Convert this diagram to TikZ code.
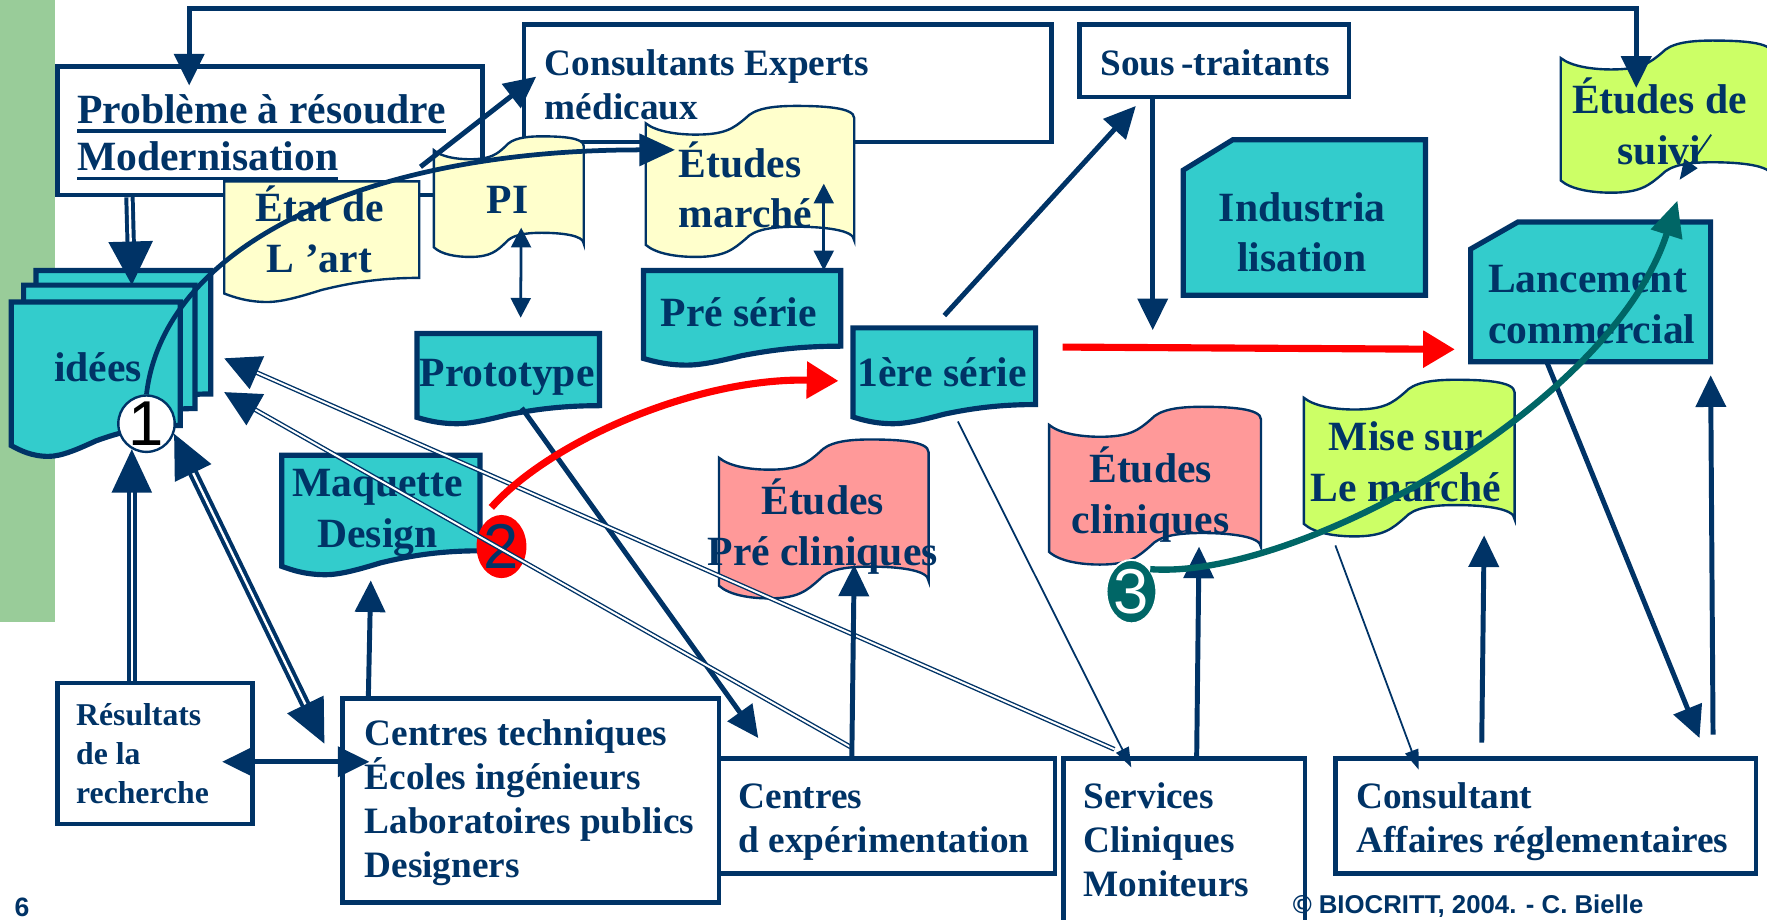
\documentclass[tikz,border=0pt]{standalone}
\usepackage{fontspec}
\setmainfont{Liberation Serif}
\setsansfont{Liberation Sans}
\usetikzlibrary{arrows.meta,calc,shapes.geometric}

\definecolor{navy}{HTML}{003366}
\definecolor{cyanbox}{HTML}{33CCCC}
\definecolor{paleyellow}{HTML}{FFFFCC}
\definecolor{pinkdoc}{HTML}{FF9999}
\definecolor{limedoc}{HTML}{CCFF66}
\definecolor{sidegreen}{HTML}{99CC99}
\definecolor{tealarrow}{HTML}{006666}

\newcommand{\bigtxt}{\fontsize{10.5}{12.8}\selectfont\bfseries}
\newcommand{\medtxt}{\fontsize{9.4}{11.1}\selectfont\bfseries}
\newcommand{\smltxt}{\fontsize{8}{9.8}\selectfont\bfseries}
\newcommand{\thickul}[1]{\setbox0=\hbox{#1}\rlap{\rule[-2.4pt]{\wd0}{0.9pt}}\box0}

\tikzset{
  frame/.style={draw=navy,line width=1.15pt,fill=white,inner sep=0pt},
  spot/.style={inner sep=0pt,outer sep=0pt},
  cyandoc/.style={draw=navy,line width=1.3pt,fill=cyanbox},
  softdoc/.style={draw=navy,line width=0.6pt,fill=#1},
  lbl/.style={text=navy,inner sep=0pt,align=center,font=\bigtxt},
  lblm/.style={text=navy,inner sep=0pt,align=left,font=\medtxt},
  flow/.style={draw=navy,line width=1.25pt,-{Triangle[length=8pt,width=7.5pt]}},
  duo/.style={draw=navy,line width=0.7pt,{Triangle[length=5pt,width=5pt]}-{Triangle[length=5pt,width=5pt]}},
  hollow/.style={draw=navy,double=white,line width=1pt,double distance=0.6pt},
  hollowthin/.style={draw=navy,double=white,line width=0.35pt,double distance=0.5pt,-{Triangle[length=9pt,width=9pt]}},
  fine/.style={draw=navy,line width=0.45pt,-{Triangle[length=5pt,width=3.5pt]}},
  redflow/.style={draw=red,line width=1.8pt,-{Triangle[length=8pt,width=9pt]}},
  tealflow/.style={draw=tealarrow,line width=1.6pt,-{Triangle[length=9pt,width=8pt]}},
  digit/.style={font=\sffamily\fontsize{16}{16}\selectfont,inner sep=0pt}
}

% document with a wavy lower edge
\newcommand{\docshape}[6]{%
  \path[#6,shift={(#2,#3)},xscale=#4,yscale=#5] (0,0) -- (1,0) -- (1,.8)
    .. controls (.8,.8) and (.65,.84) .. (.5,.9)
    .. controls (.4,.95) and (.3,1) .. (.22,1)
    .. controls (.12,1) and (.05,.96) .. (0,.93) -- cycle;
  \node[spot,minimum width=#4*0.01cm,minimum height=#5*0.01cm] (#1) at ({#2+#4/2},{#3+#5/2}) {};}

% punched tape, wavy on both edges
\newcommand{\tapeshape}[6]{%
  \path[#6,shift={(#2,#3)},xscale=#4,yscale=#5]
    (0,.115) .. controls (.05,.17) and (.15,.19) .. (.24,.19)
    .. controls (.38,.19) and (.42,.15) .. (.48,.08)
    .. controls (.52,.02) and (.6,0) .. (.72,0)
    .. controls (.85,0) and (1,.01) .. (1,.08)
    -- (1,.89) .. controls (1,.82) and (.85,.8) .. (.72,.8)
    .. controls (.6,.8) and (.52,.82) .. (.48,.88)
    .. controls (.42,.95) and (.38,1) .. (.24,1)
    .. controls (.15,1) and (.05,.98) .. (0,.92) -- cycle;
  \node[spot,minimum width=#4*0.01cm,minimum height=#5*0.01cm] (#1) at ({#2+#4/2},{#3+#5/2}) {};}

% card with cut corner
\newcommand{\cardshape}[8]{%
  \path[#8] (#2,{#3+#7}) -- ({#2+#6},#3) -- ({#2+#4},#3) -- ({#2+#4},{#3+#5}) -- (#2,{#3+#5}) -- cycle;
  \node[spot,minimum width=#4*0.01cm,minimum height=#5*0.01cm] (#1) at ({#2+#4/2},{#3+#5/2}) {};}

\begin{document}
\begin{tikzpicture}[x=0.01cm,y=-0.01cm]
\useasboundingbox (0,0) rectangle (1568,816);
\fill[sidegreen] (0,0) rectangle (49,552);

% boxes
\node[frame,minimum width=3.77cm,minimum height=1.14cm] (prob) at (239.5,116) {};
\node[frame,minimum width=4.68cm,minimum height=1.04cm] (cons) at (699,74) {};
\node[frame,minimum width=2.39cm,minimum height=0.64cm] (sous) at (1077.5,54) {};
\node[frame,minimum width=1.73cm,minimum height=1.25cm] (resu) at (137.5,668.5) {};
\node[frame,minimum width=3.34cm,minimum height=1.81cm] (ctech) at (471,710.5) {};
\node[frame,minimum width=2.98cm,minimum height=1.02cm] (cexp) at (787,724) {};
\node[frame,minimum width=2.14cm,minimum height=1.57cm] (serv) at (1051,751.5) {};
\node[frame,minimum width=3.73cm,minimum height=1.02cm] (consr) at (1371.5,724) {};

\node[lbl,align=left,anchor=west,font=\fontsize{10.5}{12}\selectfont\bfseries] (prob-t) at ($(prob.west)+(19,6)$) {\thickul{Problème à résoudre}\\\thickul{Modernisation}};
\node[lblm,anchor=west] (cons-t) at ($(cons.west)+(20,1)$) {Consultants Experts\\médicaux};
\node[lblm,anchor=west] (sous-t) at ($(sous.west)+(20,1.5)$) {Sous\,-traitants};
\node[lblm,anchor=west,font=\smltxt] (resu-t) at ($(resu.west)+(18,0)$) {Résultats\\de la\\recherche};
\node[lblm,anchor=west] (ctech-t) at ($(ctech.west)+(21,1.5)$) {Centres techniques\\Écoles ingénieurs\\Laboratoires publics\\Designers};
\node[lblm,anchor=west] (cexp-t) at ($(cexp.west)+(19,5.5)$) {Centres\\d expérimentation};
\node[lblm,anchor=west] (serv-t) at ($(serv.west)+(19,-6.5)$) {Services\\Cliniques\\Moniteurs};
\node[lblm,anchor=west] (consr-t) at ($(consr.west)+(20,5)$) {Consultant\\Affaires réglementaires};

% documents
\docshape{idees-b}{32}{240}{155}{137}{cyandoc}
\docshape{idees-m}{21}{253}{152}{137}{cyandoc}
\docshape{idees}{10}{268}{150}{137}{cyandoc}
\node[lbl] (idees-t) at ($(idees)+(2,-11)$) {idées};
\docshape{etat}{199}{161}{173}{107}{softdoc=paleyellow}
\node[lbl] (etat-t) at ($(etat)+(-2,-11)$) {État de\\L ’art};
\tapeshape{pi}{385}{121}{133}{107}{softdoc=paleyellow}
\node[lbl] (pi-t) at ($(pi)+(-1,3)$) {PI};
\tapeshape{marche}{573}{94}{185}{134}{softdoc=paleyellow}
\node[lbl,align=left] (marche-t) at ($(marche)+(-4,3)$) {Études\\marché};
\docshape{pre}{571}{240}{175}{84}{cyandoc}
\node[lbl] (pre-t) at ($(pre)+(-3,-5)$) {Pré série};
\docshape{proto}{370}{296}{162}{80}{cyandoc}
\node[lbl] (proto-t) at ($(proto)+(-1,-1)$) {Prototype};
\docshape{maq}{250}{404}{176}{106}{cyandoc}
\node[lbl] (maq-t) at ($(maq)+(-3,-2)$) {Maquette\\Design};
\docshape{serie1}{757}{291}{162}{85}{cyandoc}
\node[lbl] (serie1-t) at ($(serie1)+(-2,-3)$) {1ère série};
\tapeshape{precl}{638}{390}{186}{141}{softdoc=pinkdoc}
\node[lbl] (precl-t) at ($(precl)+(-1,7)$) {Études\\Pré cliniques};
\tapeshape{clin}{931}{361}{188}{140}{softdoc=pinkdoc}
\node[lbl] (clin-t) at ($(clin)+(-4,8)$) {Études\\cliniques};
\tapeshape{mise}{1157}{337}{187}{139}{softdoc=limedoc}
\node[lbl] (mise-t) at ($(mise)+(-3,3)$) {Mise sur\\Le marché};
\tapeshape{suivi}{1385}{36}{187}{135}{softdoc=limedoc}
\node[lbl] (suivi-t) at ($(suivi)+(-6,4)$) {Études de\\suivi};
\cardshape{indus}{1050}{124}{215}{138}{44}{27}{cyandoc}
\node[lbl] (indus-t) at ($(indus)+(-2,13)$) {Industria\\lisation};
\cardshape{lanc}{1305}{197}{213}{124}{42}{24}{cyandoc}
\node[lbl,align=left] (lanc-t) at ($(lanc)+(1,11)$) {Lancement\\commercial};

\node[ellipse,fill=red,minimum width=0.42cm,minimum height=0.56cm,digit,text=navy] (c2) at (445,485) {2};

% connectors
\draw[flow,{Triangle[length=8pt,width=7.5pt]}-{Triangle[length=8pt,width=7.5pt]}] ($(prob.north west)+(119,19)$) -- ++(0,-68) -| ($(suivi.north west)+(67,42)$);
\draw[hollow,-{Triangle[length=11pt,width=11pt]}] ($(prob.south west)+(66,0)$) -- ($(idees.north west)+(107,-15)$);
\draw[flow] ($(prob.south east)+(-57,-27)$) -- ($(cons.west)+(13,-6)$);
\draw[duo] ($(pi.south)+(11,-26)$) -- ($(proto.north)+(11,-14)$);
\draw[duo] ($(marche.south east)+(-27,-65)$) -- ($(pre.north east)+(-15,0)$);
\draw[flow] ($(proto.south)+(12,-14)$) -- ($(cexp.north west)+(37,-16)$);
\draw[flow] ($(serie1.north)+(0,-11)$) -- ($(sous.south west)+(52,6)$);
\draw[flow] ($(sous.south west)+(67,0)$) -- ++(0,205);
\draw[hollowthin] ($(cexp.north west)+(119,-8)$) -- ($(idees.east)+(39,11.5)$);
\draw[hollowthin] ($(serv.north west)+(47,-6)$) -- ($(idees.east)+(39,-18.5)$);
\draw[flow] ($(lanc.south)+(-39,0)$) -- ($(consr.north east)+(-52,-16)$);
\draw[flow] ($(consr.north east)+(-40,-19)$) -- ($(lanc.south east)+(0,12)$);
\draw[flow] ($(consr.north west)+(132,-12)$) -- ($(mise.south east)+(-27,-1)$);
\draw[fine] ($(mise.south west)+(28,8)$) -- ($(consr.north west)+(76,12)$);
\draw[flow] ($(serv.north west)+(120,0)$) -- ($(clin.south)+(39,-16)$);
\draw[fine] ($(serie1.south)+(12,-2)$) -- ($(serv.north west)+(62,10)$);
\draw[flow] ($(cexp.north west)+(120,0)$) -- ($(precl.south)+(27,-30)$);
\draw[flow] ($(ctech.north west)+(25,0)$) -- ($(maq.south)+(-9,5)$);
\draw[flow,{Triangle[length=8pt,width=7.5pt]}-{Triangle[length=8pt,width=7.5pt]}] ($(resu.east)+(-29,7.5)$) -- ($(ctech.west)+(26,-34.5)$);
\draw[fine,-{Triangle[length=5pt,width=4pt]}] ($(suivi)+(40,16)$) -- ($(suivi)+(12,56)$);

\node[circle,draw=navy,line width=0.6pt,fill=white,minimum size=0.5cm,digit] (c1) at (130,376) {1};
\draw[flow,line width=1.2pt,-{Triangle[length=9pt,width=8pt]}] (c1.north) .. controls (145,220) and (320,133) .. ($(marche.west)+(26,-28)$);
\draw[hollow,-{Triangle[length=11pt,width=10pt]}] (c1.240 |- resu.north) -- (c1.240);
\draw[hollow,{Triangle[length=11pt,width=10pt]}-{Triangle[length=11pt,width=10pt]}] (c1.340) -- ($(ctech.north west)+(-14,42)$);
\draw[redflow] ($(serie1.north east)+(24,17)$) -- ($(lanc.south west)+(-14,-11)$);
\draw[redflow] ($(c2.north)+(-9,-6)$) .. controls (490,390) and (620,335) .. ($(serie1.west)+(-13,4.5)$);

\node[ellipse,fill=tealarrow,draw=white,line width=0.5pt,minimum width=0.40cm,minimum height=0.54cm,digit,text=white] (c3) at (1004,525) {3};
\draw[tealflow] (c3.50) .. controls (1150,515) and (1430,360) .. ($(suivi.south)+(10,7)$);

\node[text=navy,font=\sffamily\bfseries\fontsize{6.7}{8}\selectfont,inner sep=0pt] (pnum) at (19.5,805) {6};
\node[text=navy,font=\sffamily\bfseries\fontsize{6.5}{8}\selectfont,inner sep=0pt,anchor=east] (copy) at (1459,804) {© BIOCRITT, 2004. - C. Bielle};
\end{tikzpicture}
\end{document}
